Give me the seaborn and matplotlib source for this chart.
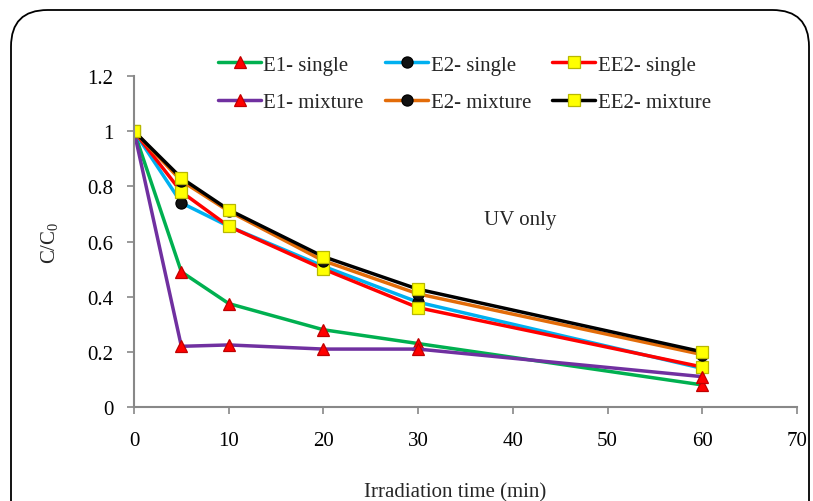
import matplotlib
matplotlib.use("Agg")
import matplotlib.pyplot as plt
from matplotlib.patches import FancyBboxPatch
import seaborn as sns
import pandas as pd

time_min = [0, 5, 10, 20, 30, 60]
e1_single = [1.0, 0.49, 0.375, 0.28, 0.23, 0.08]
e2_single = [1.0, 0.74, 0.655, 0.51, 0.38, 0.14]
ee2_single = [1.0, 0.78, 0.655, 0.50, 0.36, 0.145]
e1_mixture = [1.0, 0.22, 0.225, 0.21, 0.21, 0.11]
e2_mixture = [1.0, 0.82, 0.71, 0.53, 0.41, 0.19]
ee2_mixture = [1.0, 0.83, 0.715, 0.545, 0.427, 0.20]

labels = ["E1- single", "E2- single", "EE2- single",
          "E1- mixture", "E2- mixture", "EE2- mixture"]
series = [e1_single, e2_single, ee2_single, e1_mixture, e2_mixture, ee2_mixture]
colors = ["#00b050", "#00b0f0", "#ff0000", "#7030a0", "#e36c09", "#000000"]
markers = ["^", "o", "s", "^", "o", "s"]
mfc = ["#ff0000", "#111111", "#ffff00", "#ff0000", "#111111", "#ffff00"]
mec = ["#c00000", "#000000", "#b8b800", "#c00000", "#000000", "#b8b800"]

x_ticks = [0, 10, 20, 30, 40, 50, 60, 70]
y_ticks = [0, 0.2, 0.4, 0.6, 0.8, 1.0, 1.2]
y_tick_labels = ["0", "0.2", "0.4", "0.6", "0.8", "1", "1.2"]

sns.set_theme(style="white")
plt.rcParams["font.family"] = ["Liberation Serif", "DejaVu Serif"]
plt.rcParams["mathtext.fontset"] = "custom"
plt.rcParams["mathtext.rm"] = "Liberation Serif"

FS = 15

fig = plt.figure(figsize=(8.13, 5.02), dpi=100)
ax = fig.add_axes([134 / 813, 1 - 408 / 502, (797 - 134) / 813, (408 - 77) / 502])

# rounded border
border = FancyBboxPatch((11 / 813, -0.2), (809 - 11) / 813, (1.2 - 11 / 502),
                        boxstyle="round,pad=0,rounding_size=0.045",
                        transform=fig.transFigure, fill=False,
                        edgecolor="black", linewidth=1.3, clip_on=False,
                        mutation_aspect=813 / 502)
fig.patches.append(border)

handles = {}
for lab, ys, c, m, fc, ec in zip(labels, series, colors, markers, mfc, mec):
    df = pd.DataFrame({"t": time_min, "c": ys})
    sns.lineplot(data=df, x="t", y="c", ax=ax, color=c, linewidth=2.5,
                 marker=m, markersize=9 if m != "o" else 8,
                 markerfacecolor=fc, markeredgecolor=ec, markeredgewidth=0.9,
                 label=lab, legend=False)
    handles[lab] = ax.lines[-1]

ax.set_xlim(0, 70)
ax.set_ylim(0, 1.2)
ax.set_xticks(x_ticks)
ax.set_yticks(y_ticks)
ax.set_yticklabels(y_tick_labels)
for s in ["top", "right"]:
    ax.spines[s].set_visible(False)
for s in ["left", "bottom"]:
    ax.spines[s].set_color("#888888")
    ax.spines[s].set_linewidth(1.5)
ax.tick_params(axis="both", which="both", direction="out", length=5, width=1.2,
               color="#888888", labelsize=FS, labelcolor="black", bottom=True, left=True)
ax.tick_params(axis="x", pad=12)
ax.tick_params(axis="y", pad=10)

ax.set_xlabel("Irradiation time (min)", fontsize=FS)
ax.xaxis.set_label_coords(0.485, -0.228)
ax.set_ylabel("C/C$_0$", fontsize=FS)
ax.yaxis.set_label_coords(-0.11, 0.5)

ax.text(40.8, 0.68, "UV only", fontsize=FS, ha="center", va="center")

order = ["E1- single", "E1- mixture", "E2- single", "E2- mixture", "EE2- single", "EE2- mixture"]
ax.legend([handles[k] for k in order], order, ncol=3, loc="center",
          bbox_to_anchor=(0.498, 0.977), frameon=False, fontsize=FS,
          handlelength=2.1, handletextpad=0.1, columnspacing=1.0, labelspacing=0.85)

fig.savefig("out.png", dpi=100)
